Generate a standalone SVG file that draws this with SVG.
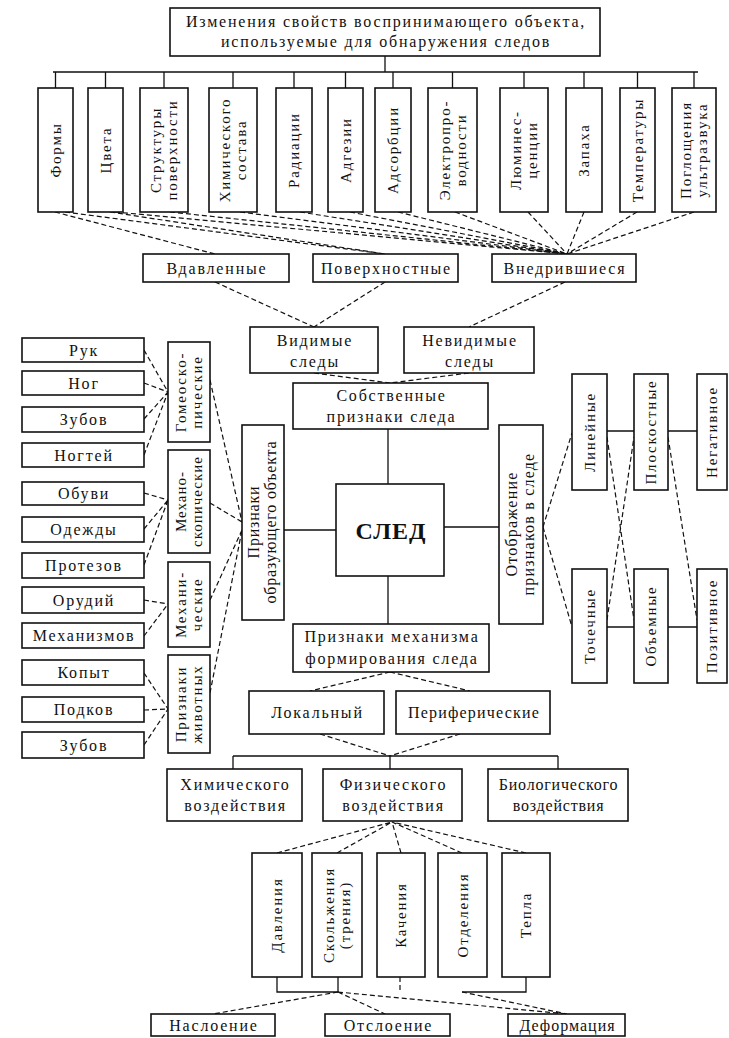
<svg xmlns="http://www.w3.org/2000/svg" width="729" height="1038" viewBox="0 0 729 1038">
<style>
.b{fill:#fff;stroke:#111;stroke-width:1.6}
.t{font-family:"Liberation Serif","DejaVu Serif",serif;font-size:16px;letter-spacing:1.8px;fill:#111;text-anchor:middle}
.v{font-size:15px}
.bold{font-weight:bold}
.s{stroke:#111;stroke-width:1.3;fill:none}
.d{stroke:#111;stroke-width:1.2;fill:none;stroke-dasharray:5 3}
</style>
<rect width="729" height="1038" fill="#fff"/>
<g id="connectors">
<path class="s" d="M385 56V72M53 72H698M55.5 72V88M105.5 72V88M164 72V88M233 72V88M294 72V88M345.5 72V88M393 72V88M452.5 72V88M524 72V88M584 72V88M637.5 72V88M694 72V88"/>
<path class="s" d="M388 429V484M388 576V624M284 530H336M444 527H499M607 431H634M668 431H697M607 627H634M668 627H697"/>
<path class="s" d="M233 756H558M233 756V769M390 756V769M558 756V769M277 977V992H338V977M526 977V992H462"/>
<path class="d" d="M400 977V992"/>
<path class="d" d="M55 212L215 254M65 212L385 254M110 212L385 254M115 212L567 254M170 212L567 254M240 212L567 254M300 212L567 254M350 212L567 254M398 212L567 254M455 212L567 254M528 212L567 254M584 212L567 254M637 212L567 254M694 212L567 254"/>
<path class="d" d="M215 282L314 327M385 282L314 327M565 282L469 327M314 373L390 383M469 373L390 383"/>
<path class="d" d="M144 350L168 392M144 383L168 392M144 419L168 392M144 455L168 392M144 493L168 500M144 529L168 500M144 565L168 500M144 600L168 604M144 636L168 604M144 673L168 709M144 710L168 709M144 745L168 709"/>
<path class="d" d="M210 380L242 522M210 503L242 522M210 600L242 530M210 693L242 530"/>
<path class="d" d="M543 527L572 433M543 527L572 627M607 437L634 620M607 620L634 437M668 437L697 620"/>
<path class="d" d="M390 672L310 691M390 672L470 691M320 734L390 756M460 734L390 756"/>
<path class="d" d="M277 853L392 822M337 853L392 822M401 853L392 822M462 853L392 822M526 853L392 822"/>
<path class="d" d="M338 992L213 1014M338 992L385 1014M338 992L567 1014M462 992L567 1014"/>
</g>
<g id="n-top"><rect class="b" x="170" y="8" width="430" height="48"/><text class="t"><tspan x="386" y="27">Изменения свойств воспринимающего объекта,</tspan><tspan x="386" y="47">используемые для обнаружения следов</tspan></text></g>
<g id="n-formy"><rect class="b" x="38" y="88" width="35" height="124"/><text class="t v" transform="translate(55.5,150) rotate(-90)" y="5">Формы</text></g>
<g id="n-cveta"><rect class="b" x="88" y="88" width="35" height="124"/><text class="t v" transform="translate(105.5,150) rotate(-90)" y="5">Цвета</text></g>
<g id="n-struct"><rect class="b" x="140" y="88" width="48" height="124"/><text class="t v" transform="translate(164,150) rotate(-90)"><tspan x="0" y="-3">Структуры</tspan><tspan x="0" y="13">поверхности</tspan></text></g>
<g id="n-chem"><rect class="b" x="209" y="88" width="48" height="124"/><text class="t v" transform="translate(233,150) rotate(-90)"><tspan x="0" y="-3">Химического</tspan><tspan x="0" y="13">состава</tspan></text></g>
<g id="n-rad"><rect class="b" x="276" y="88" width="36" height="124"/><text class="t v" transform="translate(294,150) rotate(-90)" y="5">Радиации</text></g>
<g id="n-adg"><rect class="b" x="328" y="88" width="35" height="124"/><text class="t v" transform="translate(345.5,150) rotate(-90)" y="5">Адгезии</text></g>
<g id="n-ads"><rect class="b" x="375" y="88" width="36" height="124"/><text class="t v" transform="translate(393,150) rotate(-90)" y="5">Адсорбции</text></g>
<g id="n-el"><rect class="b" x="428" y="88" width="49" height="124"/><text class="t v" transform="translate(452.5,150) rotate(-90)"><tspan x="0" y="-3">Электропро-</tspan><tspan x="0" y="13">водности</tspan></text></g>
<g id="n-lum"><rect class="b" x="500" y="88" width="48" height="124"/><text class="t v" transform="translate(524,150) rotate(-90)"><tspan x="0" y="-3">Люминес-</tspan><tspan x="0" y="13">ценции</tspan></text></g>
<g id="n-zap"><rect class="b" x="566" y="88" width="36" height="124"/><text class="t v" transform="translate(584,150) rotate(-90)" y="5">Запаха</text></g>
<g id="n-temp"><rect class="b" x="620" y="88" width="35" height="124"/><text class="t v" transform="translate(637.5,150) rotate(-90)" y="5">Температуры</text></g>
<g id="n-pogl"><rect class="b" x="672" y="88" width="44" height="124"/><text class="t v" transform="translate(694,150) rotate(-90)"><tspan x="0" y="-3">Поглощения</tspan><tspan x="0" y="13">ультразвука</tspan></text></g>
<g id="n-vdav"><rect class="b" x="143" y="254" width="146" height="28"/><text class="t" x="217" y="274">Вдавленные</text></g>
<g id="n-pov"><rect class="b" x="313" y="254" width="145" height="28"/><text class="t" x="386.5" y="274">Поверхностные</text></g>
<g id="n-vnedr"><rect class="b" x="492" y="254" width="144" height="28"/><text class="t" x="565" y="274">Внедрившиеся</text></g>
<g id="n-vid"><rect class="b" x="250" y="327" width="128" height="46"/><text class="t"><tspan x="315" y="346">Видимые</tspan><tspan x="315" y="367">следы</tspan></text></g>
<g id="n-nevid"><rect class="b" x="404" y="327" width="130" height="46"/><text class="t"><tspan x="470" y="346">Невидимые</tspan><tspan x="470" y="367">следы</tspan></text></g>
<g id="n-sobst"><rect class="b" x="293" y="383" width="195" height="46"/><text class="t"><tspan x="391.5" y="401">Собственные</tspan><tspan x="391.5" y="422">признаки следа</tspan></text></g>
<g id="n-sled"><rect class="b" x="336" y="484" width="108" height="92"/><text class="t bold" x="391" y="539" style="font-size:24px;letter-spacing:1px">СЛЕД</text></g>
<g id="n-obr"><rect class="b" x="242" y="425" width="42" height="195"/><text class="t" transform="translate(263,522) rotate(-90)" style="letter-spacing:0.8px"><tspan x="0" y="-4">Признаки</tspan><tspan x="0" y="13">образующего объекта</tspan></text></g>
<g id="n-otobr"><rect class="b" x="499" y="425" width="44" height="199"/><text class="t" transform="translate(521,524) rotate(-90)" style="letter-spacing:1.2px"><tspan x="0" y="-4">Отображение</tspan><tspan x="0" y="13">признаков в следе</tspan></text></g>
<g id="n-mech"><rect class="b" x="293" y="624" width="196" height="48"/><text class="t"><tspan x="392" y="642">Признаки механизма</tspan><tspan x="392" y="664">формирования следа</tspan></text></g>
<g id="n-lin"><rect class="b" x="572" y="374" width="35" height="116"/><text class="t v" transform="translate(589.5,432) rotate(-90)" y="5">Линейные</text></g>
<g id="n-plosk"><rect class="b" x="634" y="374" width="34" height="116"/><text class="t v" transform="translate(651,432) rotate(-90)" y="5">Плоскостные</text></g>
<g id="n-neg"><rect class="b" x="697" y="374" width="30" height="116"/><text class="t v" transform="translate(712,432) rotate(-90)" y="5">Негативное</text></g>
<g id="n-toch"><rect class="b" x="572" y="569" width="35" height="114"/><text class="t v" transform="translate(589.5,626) rotate(-90)" y="5">Точечные</text></g>
<g id="n-obyem"><rect class="b" x="634" y="569" width="34" height="114"/><text class="t v" transform="translate(651,626) rotate(-90)" y="5">Объемные</text></g>
<g id="n-poz"><rect class="b" x="697" y="569" width="30" height="114"/><text class="t v" transform="translate(712,626) rotate(-90)" y="5">Позитивное</text></g>
<g id="n-ruk"><rect class="b" x="22" y="338" width="122" height="24"/><text class="t" x="84" y="355.5">Рук</text></g>
<g id="n-nog"><rect class="b" x="22" y="371" width="122" height="24"/><text class="t" x="84" y="388.5">Ног</text></g>
<g id="n-zub1"><rect class="b" x="22" y="407" width="122" height="25"/><text class="t" x="84" y="425">Зубов</text></g>
<g id="n-nogt"><rect class="b" x="22" y="443" width="122" height="24"/><text class="t" x="84" y="460.5">Ногтей</text></g>
<g id="n-obuv"><rect class="b" x="22" y="482" width="122" height="23"/><text class="t" x="84" y="499">Обуви</text></g>
<g id="n-odezh"><rect class="b" x="22" y="517" width="122" height="25"/><text class="t" x="84" y="535">Одежды</text></g>
<g id="n-protez"><rect class="b" x="22" y="553" width="122" height="25"/><text class="t" x="84" y="571">Протезов</text></g>
<g id="n-orud"><rect class="b" x="22" y="587" width="122" height="26"/><text class="t" x="84" y="605.5">Орудий</text></g>
<g id="n-mehan"><rect class="b" x="22" y="623" width="122" height="25"/><text class="t" x="84" y="641">Механизмов</text></g>
<g id="n-kopyt"><rect class="b" x="22" y="660" width="122" height="25"/><text class="t" x="84" y="678">Копыт</text></g>
<g id="n-podk"><rect class="b" x="22" y="697" width="122" height="25"/><text class="t" x="84" y="715">Подков</text></g>
<g id="n-zub2"><rect class="b" x="22" y="732" width="122" height="26"/><text class="t" x="84" y="750.5">Зубов</text></g>
<g id="n-gomeo"><rect class="b" x="168" y="342" width="42" height="100"/><text class="t v" transform="translate(189,392) rotate(-90)"><tspan x="0" y="-3">Гомеоско-</tspan><tspan x="0" y="13">пические</tspan></text></g>
<g id="n-mehano"><rect class="b" x="168" y="450" width="42" height="103"/><text class="t v" transform="translate(189,501.5) rotate(-90)" style="letter-spacing:1px"><tspan x="0" y="-3">Механо-</tspan><tspan x="0" y="13">скопические</tspan></text></g>
<g id="n-mehanich"><rect class="b" x="168" y="562" width="42" height="85"/><text class="t v" transform="translate(189,604.5) rotate(-90)"><tspan x="0" y="-3">Механи-</tspan><tspan x="0" y="13">ческие</tspan></text></g>
<g id="n-zhiv"><rect class="b" x="168" y="655" width="42" height="98"/><text class="t v" transform="translate(189,704) rotate(-90)"><tspan x="0" y="-3">Признаки</tspan><tspan x="0" y="13">животных</tspan></text></g>
<g id="n-lok"><rect class="b" x="249" y="691" width="135" height="43"/><text class="t" x="317.5" y="718">Локальный</text></g>
<g id="n-periph"><rect class="b" x="396" y="691" width="154" height="43"/><text class="t" x="474" y="718" style="letter-spacing:1.2px">Периферические</text></g>
<g id="n-him"><rect class="b" x="167" y="769" width="135" height="52"/><text class="t"><tspan x="235.5" y="790">Химического</tspan><tspan x="235.5" y="811">воздействия</tspan></text></g>
<g id="n-fiz"><rect class="b" x="323" y="769" width="139" height="52"/><text class="t"><tspan x="393.5" y="790">Физического</tspan><tspan x="393.5" y="811">воздействия</tspan></text></g>
<g id="n-bio"><rect class="b" x="488" y="769" width="140" height="52"/><text class="t" style="letter-spacing:0.8px"><tspan x="558.5" y="790">Биологического</tspan><tspan x="558.5" y="811">воздействия</tspan></text></g>
<g id="n-davl"><rect class="b" x="252" y="853" width="50" height="124"/><text class="t v" transform="translate(277,915) rotate(-90)" y="5">Давления</text></g>
<g id="n-skolzh"><rect class="b" x="312" y="853" width="50" height="124"/><text class="t v" transform="translate(337,915) rotate(-90)"><tspan x="0" y="-3">Скольжения</tspan><tspan x="0" y="13">(трения)</tspan></text></g>
<g id="n-kach"><rect class="b" x="377" y="853" width="48" height="124"/><text class="t v" transform="translate(401,915) rotate(-90)" y="5">Качения</text></g>
<g id="n-otdel"><rect class="b" x="438" y="853" width="49" height="124"/><text class="t v" transform="translate(462.5,915) rotate(-90)" y="5">Отделения</text></g>
<g id="n-tepla"><rect class="b" x="502" y="853" width="48" height="124"/><text class="t v" transform="translate(526,915) rotate(-90)" y="5">Тепла</text></g>
<g id="n-nasl"><rect class="b" x="151" y="1014" width="124" height="22"/><text class="t" x="214" y="1030.5">Наслоение</text></g>
<g id="n-otsl"><rect class="b" x="325" y="1014" width="125" height="22"/><text class="t" x="388.5" y="1030.5">Отслоение</text></g>
<g id="n-deform"><rect class="b" x="508" y="1014" width="117" height="22"/><text class="t" x="567.5" y="1030.5" style="letter-spacing:1px">Деформация</text></g>
</svg>
